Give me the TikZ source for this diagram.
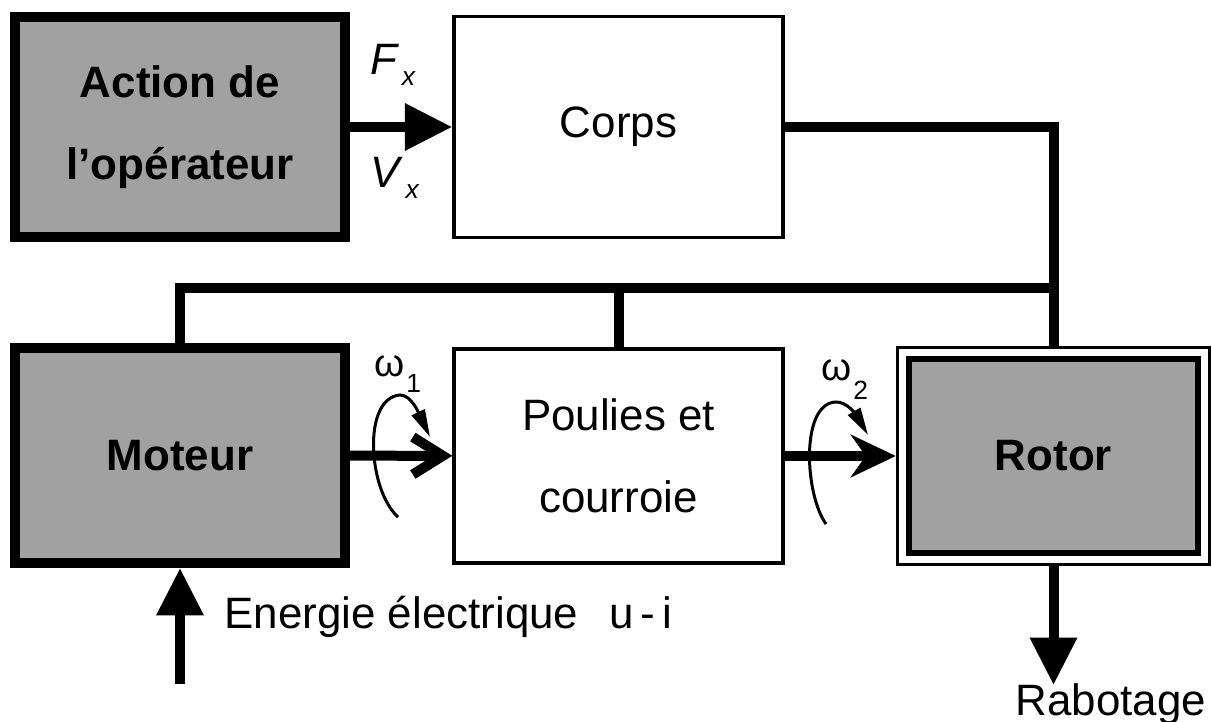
\documentclass[tikz,border=0pt]{standalone}
\usepackage{fontspec}
\setmainfont{Liberation Sans}
\usetikzlibrary{positioning, fit, arrows.meta}

\newcommand{\omg}[2]{ω\hspace{1pt}\raisebox{#2}{\fontsize{15}{15}\selectfont #1}}
\newcommand{\varx}[1]{\textit{#1}\hspace{1.5pt}\raisebox{-6pt}{\fontsize{15}{15}\selectfont\textit{x}}}

\begin{document}
\begin{tikzpicture}[
    x=0.02cm, y=-0.02cm,
    module/.style={draw, align=center, font=\fontsize{25}{47}\selectfont},
    wmodule/.style={module, line width=2pt, fill=white, minimum width=6.58cm},
    gmodule/.style={module, line width=0.2cm, fill=black!37, font=\fontsize{25}{47}\selectfont\bfseries, minimum width=6.6cm},
    note/.style={inner sep=0pt, font=\fontsize{25}{47}\selectfont},
    link/.style={line width=0.2cm},
    arrow/.style={link, -{Triangle[length=0.95cm, width=0.9cm]}},
    barb/.style={link, -{Straight Barb[length=0.6cm, width=0.75cm]}},
    heavy/.style={link, -{Stealth[length=0.9cm, width=0.85cm, inset=0.3cm]}},
    spin/.style={line width=1.7pt, -{Triangle[length=0.55cm, width=0.28cm]}}
]
\useasboundingbox (0,0) rectangle (1212,722);

\node [gmodule, minimum height=4.4cm] (act) at (180,127) {Action de\\l'opérateur};
\node [wmodule, minimum height=4.42cm] (corps) at (618.5,127) {Corps};
\node [gmodule, minimum height=4.3cm] (mot) at (180,455.5) {Moteur};
\node [wmodule, minimum height=4.28cm] (poul) at (618.5,456) {Poulies et\\courroie};
\node [gmodule, line width=0.12cm, minimum width=5.8cm, minimum height=3.9cm] (rotor) at (1053.5,456) {Rotor};
\node [fit=(rotor), draw, line width=2pt, inner sep=0.16cm] (rotorbox) {};

\coordinate (bus) at (0,288);
\coordinate (src) at (180,684);
\coordinate (sink) at (1053.5,685);

\draw [arrow] (act) -- (corps);
\draw [link] (corps.east) -| (rotorbox.north);
\draw [link] (mot.north) |- (bus -| rotorbox.north);
\draw [link] (poul.north) -- (poul.north |- bus);
\draw [barb] (mot) -- (poul);
\draw [heavy] (poul) -- (rotorbox);
\draw [arrow] (src) -- (mot);
\draw [arrow] (rotorbox) -- (sink);

\draw [spin] (398,517) .. controls (368,490) and (362,398) .. (400,395) .. controls (412,395) and (420,416) .. (430,437);
\draw [spin] (826,524) .. controls (805,495) and (800,405) .. (835,402) .. controls (848,401) and (858,418) .. (868,435);

\node [note, anchor=base west] (fx) at (370,75) {\varx{F}};
\node [note, anchor=base west] (vx) at (370,188) {\varx{V}};
\node [note, anchor=base west, font=\fontsize{22}{22}\selectfont] (w1) at (374,377) {\omg{1}{-9pt}};
\node [note, anchor=base west, font=\fontsize{22}{22}\selectfont] (w2) at (821,380) {\omg{2}{-11pt}};
\node [note, anchor=base west] (elec) at (224,628) {Energie électrique\hspace{0.7em}u\,-\,i};
\node [note, anchor=base] (rab) at (1111,715) {Rabotage};
\end{tikzpicture}
\end{document}
